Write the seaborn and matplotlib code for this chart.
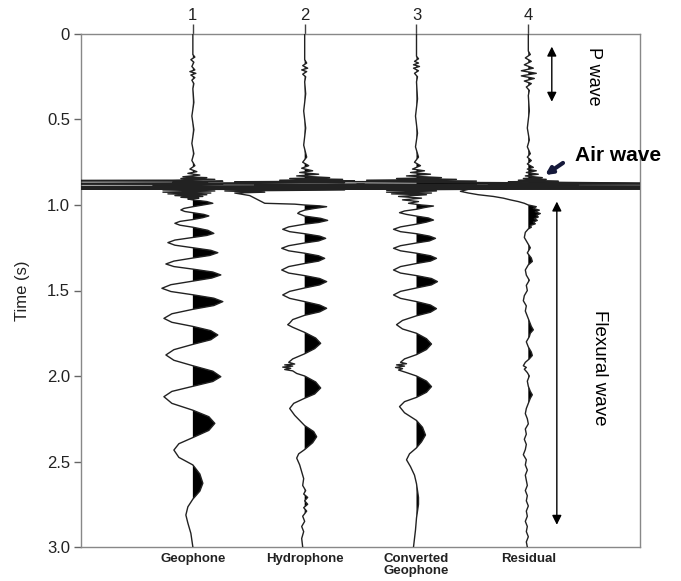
import numpy as np
import pandas as pd
import matplotlib
matplotlib.use("Agg")
import matplotlib.pyplot as plt
import seaborn as sns

# ---------------- data (time s, amplitude in display counts) ----------------
TRACE_POS = [1, 2, 3, 4]
TOP_LABELS = ["1", "2", "3", "4"]
BOTTOM_LABELS = ["Geophone", "Hydrophone", "Converted\nGeophone", "Residual"]
Y_TICKS = [0, 0.5, 1.0, 1.5, 2.0, 2.5, 3.0]
Y_TICK_LABELS = ["0", "0.5", "1.0", "1.5", "2.0", "2.5", "3.0"]

GEOPHONE = [
    (0.0, 0), (0.12, 0), (0.135, 2), (0.15, -2), (0.165, 1), (0.19, -1), (0.21, 2), (0.22, -3),
    (0.23, 3), (0.24, -2), (0.255, 2), (0.27, -1), (0.29, 1), (0.32, 0), (0.40, 1), (0.48, -1),
    (0.56, 1), (0.64, -1), (0.70, 1), (0.74, -1), (0.77, 2), (0.79, -3), (0.805, 4), (0.815, -5),
    (0.825, 7), (0.835, -10), (0.84, 14), (0.845, -12), (0.85, 22), (0.855, -20), (0.858, -300),
    (0.861, 30), (0.868, -20), (0.872, 15), (0.876, -400), (0.879, 30), (0.886, -40), (0.890, 20),
    (0.895, 600), (0.897, -600), (0.899, 600), (0.901, -600), (0.903, 600), (0.905, -600),
    (0.907, 40), (0.912, -30), (0.918, 22), (0.925, -30), (0.93, 18), (0.935, -25), (0.94, 14),
    (0.945, -18), (0.95, 10), (0.955, -12), (0.96, 6), (0.965, -5), (0.970, 0), (0.980, 14),
    (0.990, 20), (0.998, 12), (1.010, 0), (1.020, -9), (1.029, -12), (1.038, -8), (1.045, 0),
    (1.055, 11), (1.064, 16), (1.074, 10), (1.085, 0), (1.096, -13), (1.107, -18), (1.118, -13),
    (1.130, 0), (1.148, 15), (1.166, 21), (1.178, 14), (1.190, 0), (1.205, -18), (1.220, -25),
    (1.235, -18), (1.250, 0), (1.265, 18), (1.279, 25), (1.295, 17), (1.310, 0), (1.328, -19),
    (1.345, -27), (1.360, -19), (1.375, 0), (1.392, 20), (1.409, 28), (1.427, 19), (1.445, 0),
    (1.466, -22), (1.487, -31), (1.506, -22), (1.525, 0), (1.545, 21), (1.565, 30), (1.588, 21),
    (1.610, 0), (1.636, -21), (1.663, -29), (1.686, -21), (1.710, 0), (1.735, 18), (1.760, 25),
    (1.788, 18), (1.815, 0), (1.846, -19), (1.877, -27), (1.908, -19), (1.940, 0), (1.972, 20),
    (2.004, 28), (2.032, 20), (2.060, 0), (2.090, -21), (2.121, -29), (2.160, -21), (2.200, 0),
    (2.238, 16), (2.277, 22), (2.318, 16), (2.360, 0), (2.396, -14), (2.433, -19), (2.476, -14),
    (2.520, 0), (2.573, 7), (2.627, 10), (2.673, 7), (2.720, 0), (2.765, -5), (2.813, -7),
    (2.860, -5), (2.920, -2), (3.000, 0),
]

HYDROPHONE = [
    (0.0, 0), (0.15, 0), (0.17, 2), (0.185, -2), (0.2, 3), (0.21, -3), (0.22, 2), (0.235, -2),
    (0.25, 1), (0.28, 0), (0.35, 1), (0.45, -1), (0.55, 1), (0.65, -1), (0.72, 2), (0.75, -2),
    (0.77, 4), (0.785, -3), (0.80, 8), (0.81, -5), (0.82, 14), (0.83, -8), (0.84, 25), (0.845, -15),
    (0.85, 38), (0.855, -25), (0.860, 50), (0.864, -70), (0.868, 40), (0.876, -300), (0.879, 60),
    (0.883, -50), (0.887, 100), (0.895, -600), (0.897, 600), (0.899, -600), (0.901, 600),
    (0.903, -600), (0.905, 600), (0.907, -150), (0.912, 40), (0.918, -80), (0.925, -40),
    (0.93, -70), (0.945, -55), (0.96, -50), (0.975, -45), (0.99, -40), (0.995, -10), (1.000, 0),
    (1.005, 15), (1.010, 22), (1.020, 10), (1.030, 0), (1.040, -5), (1.049, -7), (1.058, -3),
    (1.065, 0), (1.078, 16), (1.090, 23), (1.102, 14), (1.112, 0), (1.128, -16), (1.142, -22),
    (1.156, -15), (1.168, 0), (1.182, 15), (1.195, 21), (1.210, 14), (1.222, 0), (1.238, -16),
    (1.253, -23), (1.268, -16), (1.282, 0), (1.297, 14), (1.312, 20), (1.328, 14), (1.342, 0),
    (1.360, -16), (1.380, -23), (1.398, -16), (1.413, 0), (1.430, 15), (1.448, 22), (1.467, 15),
    (1.485, 0), (1.505, -15), (1.526, -22), (1.546, -15), (1.565, 0), (1.585, 15), (1.604, 22),
    (1.625, 15), (1.645, 0), (1.670, -12), (1.690, -15), (1.700, -17), (1.715, -12), (1.745, 0),
    (1.778, 11), (1.809, 16), (1.840, 10), (1.870, 0), (1.900, -12), (1.920, -16), (1.930, -10),
    (1.935, -20), (1.942, -12), (1.948, -22), (1.955, -14), (1.962, -20), (1.970, -12),
    (1.985, -8), (2.000, 0), (2.035, 11), (2.070, 16), (2.105, 10), (2.130, 0), (2.160, -11),
    (2.190, -15), (2.230, -10), (2.290, 0), (2.325, 9), (2.355, 12), (2.390, 8), (2.430, 0),
    (2.455, -6), (2.480, -8), (2.520, -5), (2.560, -3), (2.600, -1), (2.640, -2), (2.670, 1),
    (2.690, -1), (2.710, 3), (2.730, 0), (2.750, 3), (2.770, -1), (2.790, 2), (2.820, -2),
    (2.850, 0), (2.880, -3), (2.910, -1), (2.950, -3), (3.000, -2),
]

CONVERTED = [
    (0.0, 0), (0.13, 0), (0.145, 2), (0.16, -2), (0.17, 2), (0.18, -3), (0.19, 3), (0.20, -3),
    (0.215, 2), (0.23, -2), (0.25, 1), (0.28, 0), (0.38, 1), (0.48, -1), (0.58, 1), (0.66, -1),
    (0.72, 2), (0.75, -2), (0.77, 4), (0.79, -4), (0.80, 8), (0.81, -6), (0.82, 14), (0.83, -10),
    (0.84, 25), (0.845, -20), (0.85, 40), (0.855, -50), (0.860, 60), (0.864, -80), (0.868, 50),
    (0.876, 300), (0.879, -60), (0.883, 60), (0.887, -80), (0.895, 600), (0.897, -600),
    (0.899, 600), (0.901, -600), (0.903, 600), (0.905, -600), (0.907, 90), (0.912, -30),
    (0.918, 20), (0.925, -30), (0.93, 15), (0.935, -25), (0.94, 10), (0.95, -18), (0.96, 5),
    (0.97, -14), (0.98, 2), (0.99, -8), (1.000, 5), (1.006, 17), (1.015, 8), (1.025, 0),
    (1.035, -12), (1.045, -17), (1.055, -10), (1.065, 0), (1.076, 12), (1.088, 17), (1.100, 10),
    (1.112, 0), (1.128, -16), (1.142, -23), (1.156, -16), (1.168, 0), (1.182, 13), (1.195, 19),
    (1.210, 13), (1.222, 0), (1.238, -16), (1.253, -23), (1.268, -16), (1.282, 0), (1.297, 14),
    (1.312, 20), (1.328, 14), (1.342, 0), (1.360, -16), (1.380, -23), (1.398, -16), (1.413, 0),
    (1.430, 15), (1.448, 21), (1.467, 15), (1.485, 0), (1.505, -16), (1.526, -23), (1.546, -16),
    (1.565, 0), (1.585, 14), (1.606, 20), (1.627, 14), (1.648, 0), (1.675, -14), (1.700, -20),
    (1.725, -14), (1.750, 0), (1.782, 10), (1.813, 15), (1.845, 10), (1.875, 0), (1.900, -12),
    (1.920, -16), (1.928, -10), (1.935, -20), (1.942, -12), (1.950, -21), (1.957, -14),
    (1.965, -18), (1.980, -10), (2.000, 0), (2.030, 10), (2.062, 15), (2.095, 10), (2.125, 0),
    (2.150, -12), (2.179, -17), (2.215, -12), (2.260, 0), (2.300, 6), (2.345, 9), (2.385, 5),
    (2.420, 0), (2.455, -7), (2.490, -10), (2.530, -6), (2.580, -2), (2.630, 0), (2.670, 1),
    (2.710, 2), (2.750, 2), (2.790, 1), (2.830, 0), (2.900, -1), (2.950, -2), (3.000, -3),
]

RESIDUAL = [
    (0.0, 0), (0.10, 0), (0.12, 2), (0.14, -3), (0.16, 3), (0.18, -4), (0.20, 5), (0.215, -7),
    (0.23, 8), (0.245, -7), (0.26, 6), (0.275, -4), (0.29, 3), (0.31, -2), (0.33, 1), (0.36, 0),
    (0.45, 1), (0.55, -1), (0.62, 1), (0.66, -1), (0.70, 2), (0.72, -1), (0.74, 3), (0.76, -1),
    (0.78, 5), (0.79, -1), (0.80, 8), (0.81, -2), (0.82, 10), (0.83, -3), (0.84, 14),
    (0.845, -5), (0.85, 18), (0.855, -10), (0.860, 30), (0.864, -20), (0.868, 40), (0.876, 200),
    (0.879, -40), (0.883, 50), (0.887, -60), (0.895, 600), (0.897, -600), (0.899, 600),
    (0.901, -600), (0.903, 600), (0.905, -300), (0.908, -60), (0.92, -68), (0.93, -60),
    (0.94, -50), (0.95, -35), (0.96, -25), (0.97, -18), (0.98, -10), (0.99, -4), (1.00, 0),
    (1.01, 8), (1.02, 5), (1.03, 11), (1.04, 7), (1.05, 12), (1.06, 8), (1.07, 10), (1.08, 6),
    (1.09, 9), (1.10, 5), (1.11, 7), (1.12, 2), (1.13, 3), (1.14, 0), (1.16, -3), (1.19, -4),
    (1.22, -1), (1.25, 2), (1.28, -1), (1.31, 3), (1.33, 4), (1.35, 0), (1.38, -3), (1.41, -2),
    (1.44, 1), (1.47, -2), (1.50, -1), (1.53, -4), (1.56, -5), (1.59, -2), (1.62, -3), (1.65, -1),
    (1.68, 1), (1.71, 3), (1.73, 5), (1.75, 2), (1.77, 1), (1.80, -2), (1.83, 0), (1.86, 3),
    (1.88, 4), (1.90, 1), (1.92, -3), (1.94, -5), (1.95, -2), (1.96, -4), (1.98, -1), (2.00, 1),
    (2.03, -1), (2.06, 0), (2.09, 2), (2.11, 4), (2.13, 2), (2.16, 0), (2.19, -2), (2.22, -3),
    (2.25, -1), (2.28, 0), (2.31, -3), (2.34, -2), (2.37, -4), (2.40, -2), (2.43, -3), (2.46, -5),
    (2.49, -2), (2.52, -3), (2.55, -1), (2.58, -3), (2.61, -2), (2.64, -1), (2.67, -3), (2.70, -1),
    (2.73, -2), (2.76, 0), (2.79, -2), (2.82, -1), (2.85, -3), (2.88, -1), (2.91, -2), (2.94, 0),
    (2.97, -2), (3.00, -1),
]

TRACES = [GEOPHONE, HYDROPHONE, CONVERTED, RESIDUAL]

# ---------------- style ----------------
GAIN = 1.0 / 112.0
sns.set_theme(style="white")
plt.rcParams["font.family"] = ["Liberation Sans", "DejaVu Sans"]

fig = plt.figure(figsize=(6.81, 5.81), dpi=100)
ax = fig.add_axes([0.119, 0.0585, 0.821, 0.883])

frames = []
for pos, name, tr in zip(TRACE_POS, BOTTOM_LABELS, TRACES):
    arr = np.array(tr, dtype=float)
    df = pd.DataFrame({"time": arr[:, 0], "amp": arr[:, 1]})
    df["x"] = pos + df["amp"] * GAIN
    df["trace"] = name
    ax.fill_betweenx(df["time"].values, pos, df["x"].values,
                     where=df["amp"].values > 0, interpolate=True,
                     color="black", lw=0, zorder=2)
    frames.append(df)

for df in frames:
    sns.lineplot(data=df, x="x", y="time", sort=False, estimator=None,
                 orient="y", color="#222222", lw=1.0, ax=ax, zorder=3)

ax.set_xlim(0, 5)
ax.set_ylim(3.0, 0)
ax.set_xlabel("")
ax.set_ylabel("Time (s)", fontsize=12, color="#222222", labelpad=12)

ax.set_yticks(Y_TICKS)
ax.set_yticklabels(Y_TICK_LABELS)
ax.tick_params(axis="y", left=True, direction="out", length=5, width=1,
               color="#666666", labelsize=12, labelcolor="#222222", pad=3)

ax.set_xticks(TRACE_POS)
ax.set_xticklabels(BOTTOM_LABELS, fontweight="bold", fontsize=9.5, color="#222222",
                   linespacing=1.05)
ax.tick_params(axis="x", bottom=False, length=0, pad=4)

sec = ax.secondary_xaxis("top")
sec.set_xticks(TRACE_POS)
sec.set_xticklabels(TOP_LABELS, fontsize=12, color="#222222")
sec.tick_params(axis="x", direction="out", length=7, width=1, color="#444444", pad=1)
sec.spines["top"].set_visible(False)

for s in ax.spines.values():
    s.set_visible(True)
    s.set_color("#888888")
    s.set_linewidth(1.0)

# annotations
ax.annotate("", xy=(4.21, 0.074), xytext=(4.21, 0.396),
            arrowprops=dict(arrowstyle="<|-|>", color="black", lw=1.0, mutation_scale=14,
                            shrinkA=0, shrinkB=0))
ax.text(4.58, 0.25, "P wave", rotation=-90, ha="center", va="center", fontsize=13,
        color="black")

ax.annotate("", xy=(4.15, 0.825), xytext=(4.31, 0.754),
            arrowprops=dict(arrowstyle="-|>", color="#15193a", lw=3.0, mutation_scale=10,
                            shrinkA=0, shrinkB=0))
ax.text(4.42, 0.713, "Air wave", ha="left", va="center", fontsize=15, fontweight="bold",
        color="black", clip_on=False)

ax.annotate("", xy=(4.255, 0.98), xytext=(4.255, 2.87),
            arrowprops=dict(arrowstyle="<|-|>", color="black", lw=1.0, mutation_scale=14,
                            shrinkA=0, shrinkB=0))
ax.text(4.64, 1.95, "Flexural wave", rotation=-90, ha="center", va="center", fontsize=13.5,
        color="black")

fig.savefig("out.png", dpi=100, facecolor="white")
